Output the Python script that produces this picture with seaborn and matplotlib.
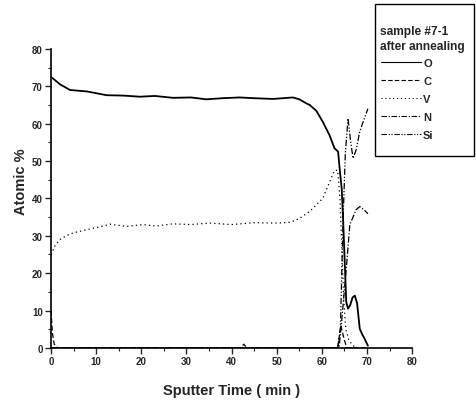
import pandas as pd
import matplotlib
matplotlib.use("Agg")
import matplotlib.pyplot as plt
from matplotlib.patches import Rectangle
import seaborn as sns

# values
t_O = [0, 0.5, 2, 4.2, 8, 12.3, 16, 19.7, 23, 27, 31, 34.4, 38, 41.8, 45, 49.2,
       53.6, 55, 56.6, 57.3, 58.8, 60.2, 61.7, 62.8, 63.6, 64.0, 64.4, 64.7,
       65.1, 65.4, 65.8, 66.3, 66.8, 67.3, 67.8, 68.4, 69.0, 69.5, 70.2]
O = [72.4, 72.0, 70.5, 69.0, 68.6, 67.6, 67.5, 67.2, 67.4, 66.9, 67.0, 66.5,
     66.8, 67.0, 66.8, 66.6, 67.0, 66.5, 65.4, 65.0, 63.4, 60.5, 56.9, 53.4,
     52.5, 47.2, 42.6, 34.6, 22.0, 12.3, 10.5, 11.5, 13.5, 14.0, 12.0, 5.1,
     3.5, 2.4, 0.6]

t_C = [0, 0.3, 0.7, 1.5, 42, 42.7, 43.4, 60, 63.5, 64.2, 64.8, 65.5, 70]
C = [10, 4, 1, 0, 0, 1, 0, 0, 0, 6, 3, 0, 0]

t_V = [0, 0.9, 2, 3.5, 5, 7.1, 10.8, 13.1, 16.7, 20.4, 23.3, 27, 31, 35, 40,
       45, 50, 53, 55, 57.3, 60.2, 62.8, 63.5, 64.0, 64.4, 64.8, 65.3, 66.0,
       66.8, 67.5]
V = [25, 27.4, 29, 30.1, 30.8, 31.4, 32.4, 33.1, 32.5, 33.0, 32.6, 33.2, 33.0,
     33.4, 33.0, 33.5, 33.4, 33.6, 34.6, 36.5, 40, 47.5, 47.5, 40, 28, 14, 5,
     2, 0.8, 0]

t_N = [0, 63.8, 64.3, 65.4, 66.2, 66.9, 67.6, 68.4, 69.3, 70.2]
N = [0, 0, 6, 21, 33, 35, 37, 37.8, 37, 35.9]

t_Si = [0, 63.5, 64.1, 64.7, 65.2, 65.8, 66.3, 66.9, 67.6, 68.4, 69.3, 70.2]
Si = [0, 0, 5, 34, 52, 61.4, 56, 50.7, 53, 57.9, 61, 64]

elements = ["O", "C", "V", "N", "Si"]
title_lines = ["sample #7-1", "after annealing"]
series = {"O": (t_O, O), "C": (t_C, C), "V": (t_V, V), "N": (t_N, N), "Si": (t_Si, Si)}

rows = []
for el in elements:
    for t, v in zip(*series[el]):
        rows.append({"time": t, "atomic": v, "element": el})
df = pd.DataFrame(rows)

sns.set_style("ticks")
plt.rcParams["font.family"] = ["Liberation Sans", "DejaVu Sans"]

fig = plt.figure(figsize=(4.77, 4.02), dpi=100)
ax = fig.add_axes([0.107, 0.132, 0.757, 0.744])

dashes = {"O": "", "C": (4, 2), "V": (1, 2.5), "N": (5, 1.5, 1, 1.5),
          "Si": (5, 1.5, 1, 1.5, 1, 1.5)}
sns.lineplot(data=df, x="time", y="atomic", hue="element", style="element",
             hue_order=elements, style_order=elements,
             palette={el: "black" for el in elements}, dashes=dashes,
             linewidth=0.9, sort=False, ax=ax, legend=False)
ax.lines[0].set_linewidth(1.3)

ax.set_xlim(0, 80)
ax.set_ylim(0, 80)
ax.set_xticks(range(0, 81, 10))
ax.set_yticks(range(0, 81, 10))
ax.set_xticks(range(0, 81, 5), minor=True)
ax.set_yticks(range(0, 81, 5), minor=True)
ax.tick_params(which="major", direction="out", length=4, width=1, labelsize=7, pad=2)
ax.tick_params(which="minor", direction="out", length=2, width=0.8)
for lab in ax.get_xticklabels() + ax.get_yticklabels():
    lab.set_fontweight("bold")
sns.despine(ax=ax)
for sp in ["left", "bottom"]:
    ax.spines[sp].set_linewidth(1.2)
    ax.spines[sp].set_color("black")

ax.set_xlabel("Sputter Time ( min )", fontsize=10.5, fontweight="bold", labelpad=12)
ax.set_ylabel("Atomic %", fontsize=10.5, fontweight="bold")
ax.yaxis.set_label_coords(-0.065, 0.56)

# legend box sits above the axes, like the original; title and frame drawn separately
for i, line in enumerate(title_lines):
    fig.text(380 / 477, 1 - (32 + 15 * i) / 402, line, ha="left", va="center",
             fontsize=8.6, fontweight="bold")
handles = [plt.Line2D([], [], color="black", linewidth=0.8,
                      linestyle=(0, dashes[el]) if dashes[el] else "-")
           for el in elements]
leg = fig.legend(handles, elements, loc="upper left",
                 bbox_to_anchor=(381 / 477, 1 - 59 / 402), fontsize=8,
                 frameon=False, handlelength=3.6, handletextpad=0.2,
                 labelspacing=0.72, borderpad=0, borderaxespad=0)
for txt in leg.get_texts():
    txt.set_fontweight("bold")
fig.patches.append(Rectangle((375 / 477, 1 - 157 / 402), 99 / 477, 152 / 402,
                             transform=fig.transFigure, fill=False,
                             edgecolor="black", linewidth=1.0))

fig.savefig("out.png", dpi=100, facecolor="white")
